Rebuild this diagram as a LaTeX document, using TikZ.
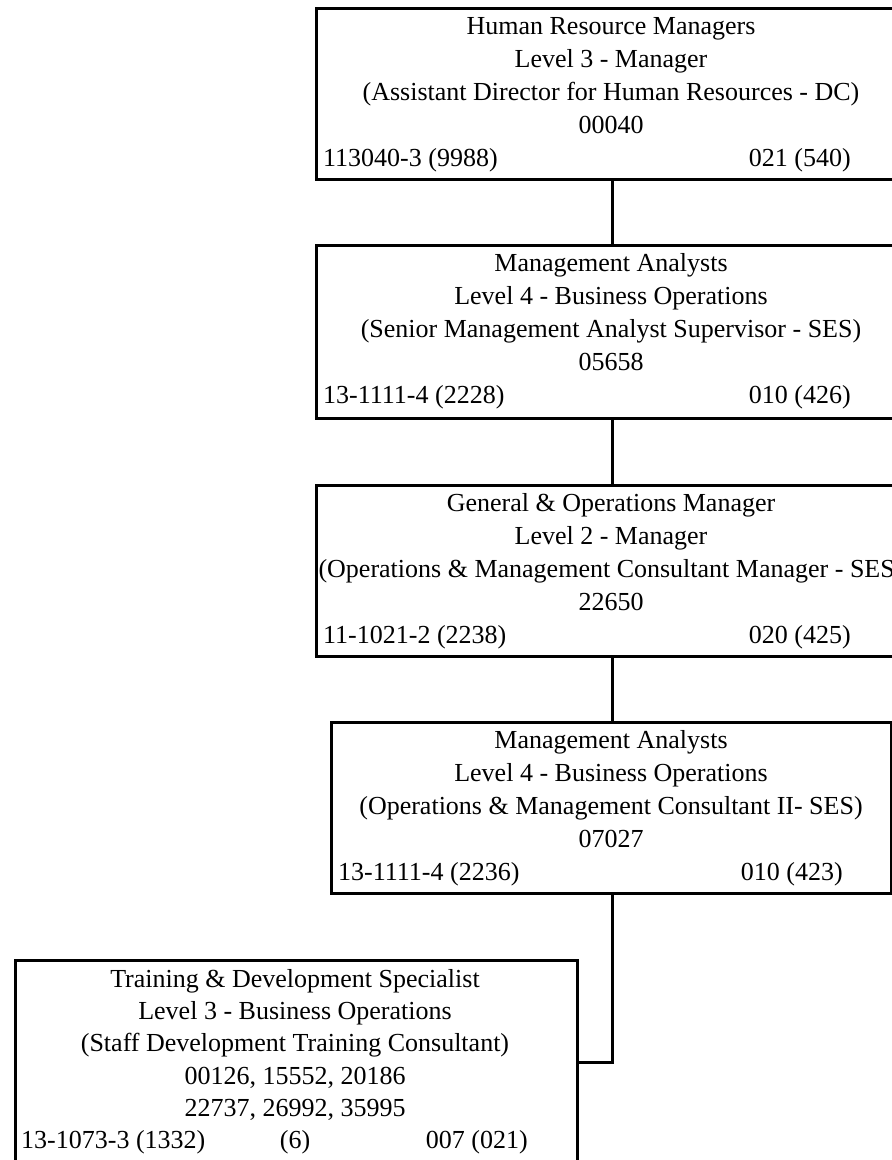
\documentclass[tikz,border=0pt]{standalone}
\usepackage{fontspec}
\setmainfont{Liberation Serif}
\begin{document}
\begin{tikzpicture}[x=1pt,y=-1pt,
  box/.style={draw=black,line width=2.7pt,fill=none,inner sep=0pt,anchor=north west},
  conn/.style={draw=black,line width=2.7pt},
  txt/.style={anchor=base,inner sep=0pt,font=\fontsize{26}{33}\selectfont},
  txtl/.style={txt,anchor=base west},
  txtr/.style={txt,anchor=base east}]
\useasboundingbox (0,0) rectangle (892,1160);
% boxes
\node[box,minimum width=592pt,minimum height=171pt] (b1) at (315,7) {};
\node[box,minimum width=592pt,minimum height=173pt] (b2) at (315,244) {};
\node[box,minimum width=592pt,minimum height=171pt] (b3) at (315,484) {};
\node[box,minimum width=560pt,minimum height=171pt] (b4) at (330,721) {};
\node[box,minimum width=562pt,minimum height=204pt] (b5) at (14,959) {};
% connectors
\draw[conn] (b1.south) -- (b2.north);
\draw[conn] (b2.south) -- (b3.north);
\draw[conn] (b3.south) -- (b3.south |- b4.north);
\draw[conn] (b3.south |- b4.south) |- (b5.east);
% box 1
\node[txt] (t11) at (611,34) {Human Resource Managers};
\node[txt] (t12) at (611,67) {Level 3 - Manager};
\node[txt] (t13) at (611,100) {(Assistant Director for Human Resources - DC)};
\node[txt] (t14) at (611,133) {00040};
\node[txtl] (t15) at (323,166) {113040-3 (9988)};
\node[txtr] (t16) at (851,166) {021 (540)};
% box 2
\node[txt] (t21) at (611,271) {Management Analysts};
\node[txt] (t22) at (611,304) {Level 4 - Business Operations};
\node[txt] (t23) at (611,337) {(Senior Management Analyst Supervisor - SES)};
\node[txt] (t24) at (611,370) {05658};
\node[txtl] (t25) at (323,403) {13-1111-4 (2228)};
\node[txtr] (t26) at (851,403) {010 (426)};
% box 3
\node[txt] (t31) at (611,511) {General \& Operations Manager};
\node[txt] (t32) at (611,544) {Level 2 - Manager};
\node[txt] (t33) at (611,577) {(Operations \& Management Consultant Manager - SES)};
\node[txt] (t34) at (611,610) {22650};
\node[txtl] (t35) at (323,643) {11-1021-2 (2238)};
\node[txtr] (t36) at (851,643) {020 (425)};
% box 4
\node[txt] (t41) at (611,748) {Management Analysts};
\node[txt] (t42) at (611,781) {Level 4 - Business Operations};
\node[txt] (t43) at (611,814) {(Operations \& Management Consultant II- SES)};
\node[txt] (t44) at (611,847) {07027};
\node[txtl] (t45) at (338,880) {13-1111-4 (2236)};
\node[txtr] (t46) at (843,880) {010 (423)};
% box 5
\node[txt] (t51) at (295,987) {Training \& Development Specialist};
\node[txt] (t52) at (295,1019) {Level 3 - Business Operations};
\node[txt] (t53) at (295,1051) {(Staff Development Training Consultant)};
\node[txt] (t54) at (295,1084) {00126, 15552, 20186};
\node[txt] (t55) at (295,1116) {22737, 26992, 35995};
\node[txtl] (t56) at (21,1148) {13-1073-3 (1332)};
\node[txt] (t57) at (295,1148) {(6)};
\node[txtr] (t58) at (528,1148) {007 (021)};
\end{tikzpicture}
\end{document}
